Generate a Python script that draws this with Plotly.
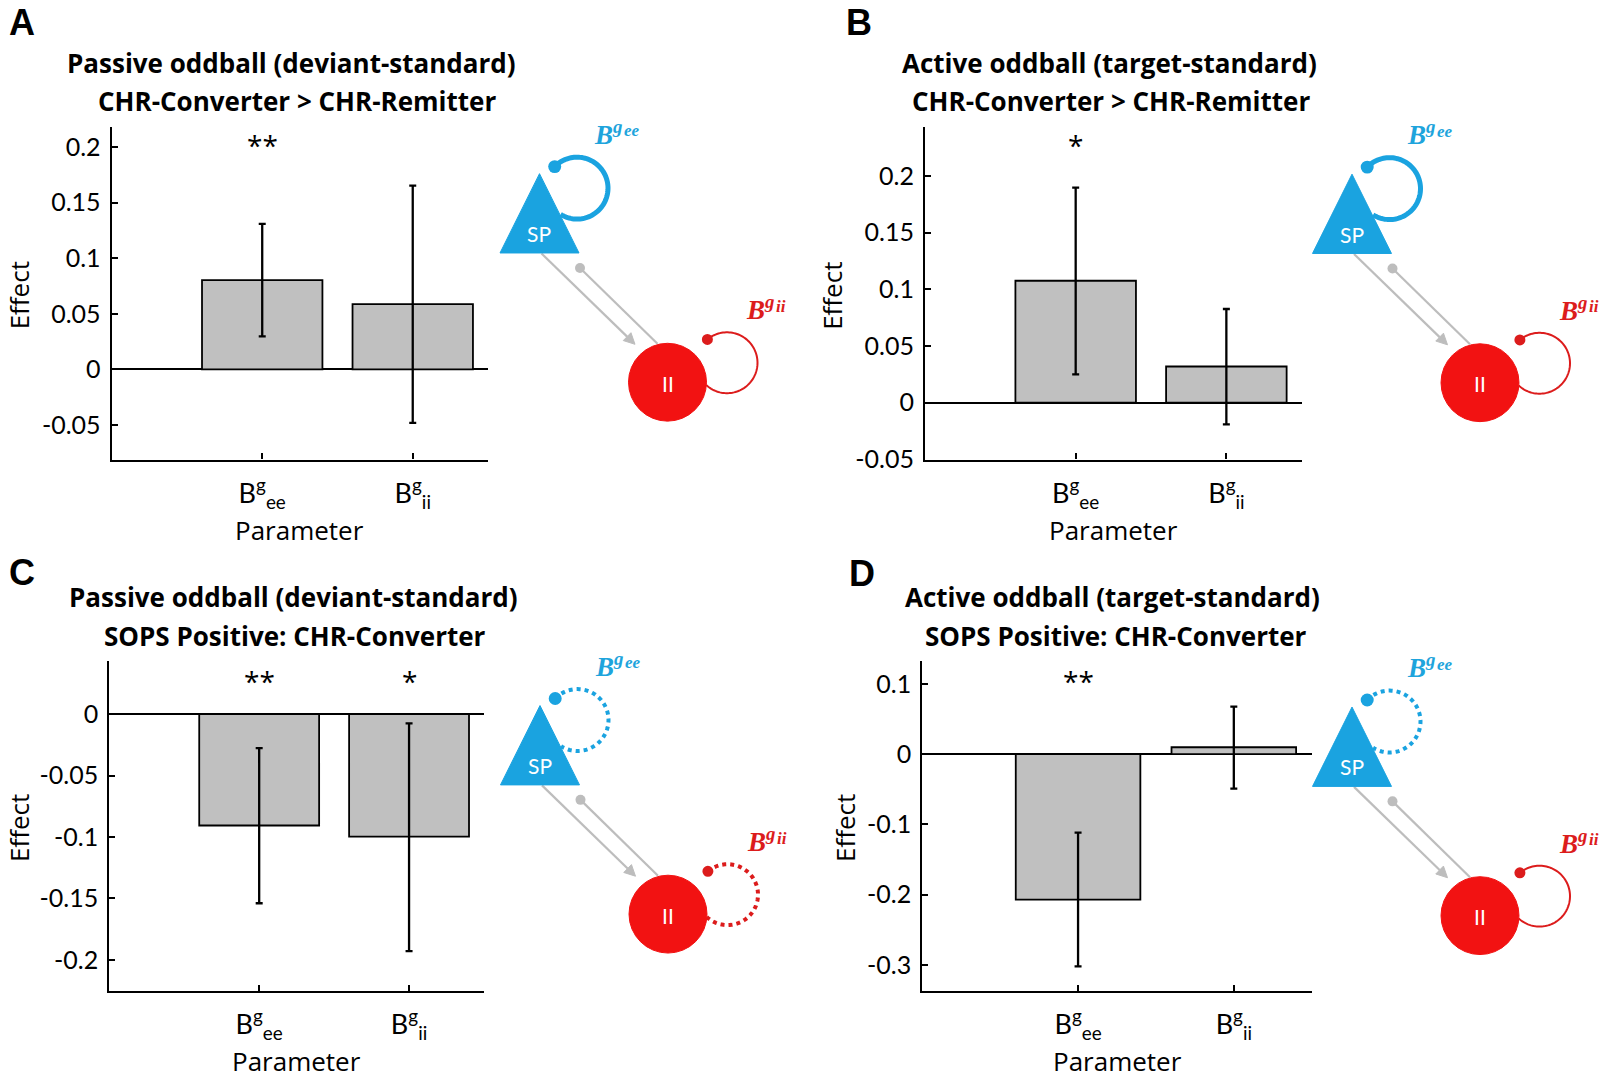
import numpy as np
import plotly.graph_objects as go

W, H = 1600, 1085

# ---------------- data ----------------
param_pos = [1, 2]
param_labels = ["B<sup>g</sup><sub>ee</sub>", "B<sup>g</sup><sub>ii</sub>"]

effect_A = [0.0803, 0.0587]
err_hi_A = [0.1310, 0.1654]
err_lo_A = [0.0297, -0.0482]
stars_A = ["**", ""]

effect_B = [0.1075, 0.0319]
err_hi_B = [0.1897, 0.0826]
err_lo_B = [0.0249, -0.0191]
stars_B = ["*", ""]

effect_C = [-0.0907, -0.0997]
err_hi_C = [-0.0277, -0.0076]
err_lo_C = [-0.1540, -0.1930]
stars_C = ["**", "*"]

effect_D = [-0.2070, 0.0099]
err_hi_D = [-0.1116, 0.0677]
err_lo_D = [-0.3020, -0.0489]
stars_D = ["**", ""]

ticks_AB = [-0.05, 0, 0.05, 0.1, 0.15, 0.2]
ticklabels_AB = ["-0.05", "0", "0.05", "0.1", "0.15", "0.2"]
ticks_C = [-0.2, -0.15, -0.1, -0.05, 0]
ticklabels_C = ["-0.2", "-0.15", "-0.1", "-0.05", "0"]
ticks_D = [-0.3, -0.2, -0.1, 0, 0.1]
ticklabels_D = ["-0.3", "-0.2", "-0.1", "0", "0.1"]

titles_1 = ["Passive oddball (deviant-standard)", "Active oddball (target-standard)",
            "Passive oddball (deviant-standard)", "Active oddball (target-standard)"]
titles_2 = ["CHR-Converter > CHR-Remitter", "CHR-Converter > CHR-Remitter",
            "SOPS Positive: CHR-Converter", "SOPS Positive: CHR-Converter"]
letters = ["A", "B", "C", "D"]

# ---------------- layout helpers ----------------
FONT = "Lato"
TFONT = "Open Sans"
BLUE = "#1aa3e0"
BLUE_TXT = "#1ea4dc"
RED = "#f21212"
RED_LINE = "#dc1c1c"
GRAY = "#bdbdbd"
SY = 1.011


def px(x):
    return x / W


def py(y):
    return 1 - y * SY / H


def path_from(points, close=False):
    s = "M " + " L ".join(f"{px(x):.5f},{py(y):.5f}" for x, y in points)
    return s + (" Z" if close else "")


panels = [
    dict(y=effect_A, hi=err_hi_A, lo=err_lo_A, stars=stars_A, yr=[-0.0812, 0.218],
         tv=ticks_AB, tt=ticklabels_AB, box=(111.7, 488.0, 127.4, 460.5),
         letter_xy=(21.5, 23), t1=(291.0, 63), t2=(296.7, 101), star_y=139,
         eff_x=19, par_y=531, diag=(0, 0), ee_dot=False, ii_dot=False),
    dict(y=effect_B, hi=err_hi_B, lo=err_lo_B, stars=stars_B, yr=[-0.0502, 0.243],
         tv=ticks_AB, tt=ticklabels_AB, box=(925.0, 1301.7, 127.4, 460.5),
         letter_xy=(859, 23), t1=(1109.3, 63), t2=(1110.5, 101), star_y=139,
         eff_x=832.5, par_y=531, diag=(812.5, 0.5), ee_dot=False, ii_dot=False),
    dict(y=effect_C, hi=err_hi_C, lo=err_lo_C, stars=stars_C, yr=[-0.2254, 0.0432],
         tv=ticks_C, tt=ticklabels_C, box=(109.3, 484.0, 662.4, 993.0),
         letter_xy=(21.7, 574), t1=(293.3, 598), t2=(295.0, 637), star_y=676,
         eff_x=19, par_y=1063, diag=(0.5, 533), ee_dot=True, ii_dot=True),
    dict(y=effect_D, hi=err_hi_D, lo=err_lo_D, stars=stars_D, yr=[-0.337, 0.1326],
         tv=ticks_D, tt=ticklabels_D, box=(922.3, 1311.7, 662.4, 993.0),
         letter_xy=(862, 575), t1=(1112.0, 598), t2=(1115.6, 637), star_y=676,
         eff_x=845, par_y=1063, diag=(812.5, 534.5), ee_dot=True, ii_dot=False),
]

fig = go.Figure()
shapes = []
annotations = []
layout_axes = {}


def ann(text, x, y, size, color="black", family=FONT, xanchor="center", yanchor="middle",
        xref="paper", angle=0):
    annotations.append(dict(text=text, x=x, y=y, xref=xref, yref="paper", showarrow=False,
                            xanchor=xanchor, yanchor=yanchor, textangle=angle,
                            font=dict(family=family, size=size, color=color)))


for i, p in enumerate(panels):
    n = i + 1
    xa = "x" if n == 1 else f"x{n}"
    ya = "y" if n == 1 else f"y{n}"
    yv = np.array(p["y"])
    hi = np.array(p["hi"])
    lo = np.array(p["lo"])
    fig.add_trace(go.Bar(
        x=param_pos, y=yv, width=0.8, xaxis=xa, yaxis=ya,
        marker=dict(color="#c0c0c0", line=dict(color="black", width=1.8)),
        error_y=dict(type="data", symmetric=False, array=hi - yv, arrayminus=yv - lo,
                     color="black", thickness=2.3, width=3.5),
        showlegend=False, hoverinfo="skip"))

    x0, x1, y0, y1 = p["box"]
    xkey = "xaxis" if n == 1 else f"xaxis{n}"
    ykey = "yaxis" if n == 1 else f"yaxis{n}"
    layout_axes[xkey] = dict(
        domain=[px(x0), px(x1)], range=[0, 2.5], anchor=ya,
        tickmode="array", tickvals=param_pos, ticktext=param_labels,
        ticks="inside", ticklen=6, tickwidth=2, tickcolor="black",
        showline=True, linecolor="black", linewidth=2.2, mirror=False,
        showgrid=False, zeroline=False, fixedrange=True,
        tickfont=dict(family=FONT, size=27, color="black"), ticklabelstandoff=9)
    layout_axes[ykey] = dict(
        domain=[py(y1), py(y0)], range=p["yr"], anchor=xa,
        tickmode="array", tickvals=p["tv"], ticktext=p["tt"],
        ticks="inside", ticklen=6, tickwidth=2, tickcolor="black",
        showline=True, linecolor="black", linewidth=2.2, mirror=False,
        showgrid=False, zeroline=True, zerolinecolor="black", zerolinewidth=1.6,
        fixedrange=True, tickfont=dict(family=FONT, size=25, color="black"),
        ticklabelstandoff=4)

    # significance stars
    for xpos, s in zip(param_pos, p["stars"]):
        if s:
            ann(s, xpos, py(p["star_y"] + 6), 28, family=TFONT, xref=xa)
    # titles
    ann(f"<b>{titles_1[i]}</b>", px(p["t1"][0]), py(p["t1"][1]), 26, family=TFONT)
    ann(f"<b>{titles_2[i]}</b>", px(p["t2"][0]), py(p["t2"][1]), 26, family=TFONT)
    # panel letter
    lx, ly = p["letter_xy"]
    ann(f"<b>{letters[i]}</b>", px(lx), py(ly), 36, family="Liberation Sans")
    # axis titles
    ann("Effect", px(p["eff_x"]), py((y0 + y1) / 2 + 2), 26, family=TFONT, angle=-90)
    ann("Parameter", px((x0 + x1) / 2), py(p["par_y"]), 26, family=TFONT)

    # ---------------- circuit diagram ----------------
    ox, oy = p["diag"]
    # blue self-connection (B^g_ee)
    th = np.radians(np.linspace(-136, 122, 90))
    pts = [(ox + 577 + 31 * np.cos(t), oy + 188.5 + 31 * np.sin(t)) for t in th]
    shapes.append(dict(type="path", path=path_from(pts), xref="paper", yref="paper",
                       line=dict(color=BLUE, width=4 if p["ee_dot"] else 5,
                                 dash="dot" if p["ee_dot"] else "solid")))
    bdx, bdy = pts[0]
    # red self-connection (B^g_ii)
    th = np.radians(np.linspace(-130, 133, 90))
    pts = [(ox + 727 + 30.5 * np.cos(t), oy + 363.5 + 30.5 * np.sin(t)) for t in th]
    shapes.append(dict(type="path", path=path_from(pts), xref="paper", yref="paper",
                       line=dict(color=RED_LINE, width=4 if p["ii_dot"] else 2,
                                 dash="dot" if p["ii_dot"] else "solid")))
    rdx, rdy = pts[0]
    # gray connections
    a0 = np.array([ox + 541.5, oy + 254.0])
    a1 = np.array([ox + 635.0, oy + 345.0])
    d = (a1 - a0) / np.linalg.norm(a1 - a0)
    nrm = np.array([-d[1], d[0]])
    base = a1 - 11 * d
    shapes.append(dict(type="path", path=path_from([tuple(a0), tuple(base)]), xref="paper", yref="paper",
                       line=dict(color=GRAY, width=2.2)))
    head = [tuple(a1), tuple(base + 5.5 * nrm), tuple(base - 5.5 * nrm)]
    shapes.append(dict(type="path", path=path_from(head, close=True), xref="paper", yref="paper",
                       fillcolor=GRAY, line=dict(color=GRAY, width=1)))
    g0 = (ox + 580.0, oy + 268.5)
    g1 = (ox + 657.5, oy + 344.5)
    shapes.append(dict(type="path", path=path_from([g0, g1]), xref="paper", yref="paper",
                       line=dict(color=GRAY, width=2.2)))
    r = 5
    shapes.append(dict(type="circle", xref="paper", yref="paper",
                       x0=px(g0[0] - r), x1=px(g0[0] + r), y0=py(g0[1] + r), y1=py(g0[1] - r),
                       fillcolor=GRAY, line=dict(width=0)))
    # SP triangle
    tri = [(ox + 539.5, oy + 174.0), (ox + 579.0, oy + 253.5), (ox + 500.0, oy + 253.5)]
    shapes.append(dict(type="path", path=path_from(tri, close=True), xref="paper", yref="paper",
                       fillcolor=BLUE, line=dict(color=BLUE, width=1)))
    # II circle
    cx, cy, cr = ox + 667.5, oy + 383.0, 39
    shapes.append(dict(type="circle", xref="paper", yref="paper",
                       x0=px(cx - cr), x1=px(cx + cr), y0=py(cy + cr), y1=py(cy - cr),
                       fillcolor=RED, line=dict(color=RED, width=1)))
    # loop end dots
    for (dx_, dy_, col, rr) in [(bdx, bdy, BLUE, 6.5), (rdx, rdy, RED_LINE, 5.5)]:
        shapes.append(dict(type="circle", xref="paper", yref="paper",
                           x0=px(dx_ - rr), x1=px(dx_ + rr), y0=py(dy_ + rr), y1=py(dy_ - rr),
                           fillcolor=col, line=dict(width=0)))
    # node labels
    ann("SP", px(ox + 539.3), py(oy + 234), 21, color="white")
    ann("II", px(cx), py(cy + 1), 21, color="white")
    # connection labels
    ann("<b><i>B<sup>g</sup></i></b>", px(ox + 592), py(oy + 133), 27,
        color=BLUE_TXT, family="Liberation Serif", xanchor="left")
    ann("<b><i>ee</i></b>", px(ox + 622), py(oy + 131), 17,
        color=BLUE_TXT, family="Liberation Serif", xanchor="left")
    ann("<b><i>B<sup>g</sup></i></b>", px(ox + 744), py(oy + 309), 27,
        color=RED_LINE, family="Liberation Serif", xanchor="left")
    ann("<b><i>ii</i></b>", px(ox + 774), py(oy + 307), 17,
        color=RED_LINE, family="Liberation Serif", xanchor="left")

fig.update_layout(
    width=W, height=H, autosize=False,
    margin=dict(l=0, r=0, t=0, b=0, pad=0),
    paper_bgcolor="white", plot_bgcolor="rgba(0,0,0,0)",
    font=dict(family=FONT, color="black"),
    showlegend=False, barmode="group",
    shapes=shapes, annotations=annotations,
    **layout_axes,
)

fig.write_html("out.html")
